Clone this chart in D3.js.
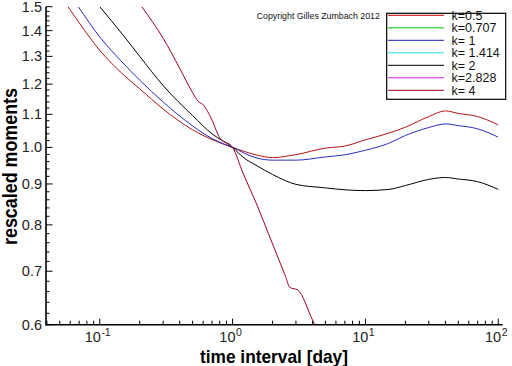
<!DOCTYPE html>
<html><head><meta charset="utf-8">
<script src="https://cdn.jsdelivr.net/npm/d3@7/dist/d3.min.js"></script>
<style>
html,body{margin:0;padding:0;background:#fff;}
svg{display:block;font-family:"Liberation Sans",Arial,sans-serif;}
</style></head>
<body><svg id="c" width="512" height="366"></svg>
<script>
// ---- data ----
const legendLabels = ["k=0.5","k=0.707","k= 1","k= 1.414","k= 2","k=2.828","k= 4"];
const legendColors = ["#c00000","#00c000","#1c1cb4","#30e0e0","#000000","#d020d0","#a00018"];
const yTicks = [0.6,0.7,0.8,0.9,1.0,1.1,1.2,1.3,1.4,1.5];
const xTicks = [0.1,1,10,100];
const xExp = ["-1","0","1","2"];

const tK05 = [0.0577,0.07,0.1,0.15,0.2,0.3,0.5,0.7,1,1.5,2,3,5,7,10,15,20,30,40,50,70,100];
const vK05 = [1.5,1.432,1.323,1.234,1.184,1.117,1.052,1.023,1.0,0.979,0.971,0.9795,0.998,1.004,1.022,1.042,1.060,1.093,1.111,1.103,1.093,1.067];

const tK1 = [0.069,0.1,0.15,0.2,0.3,0.5,0.7,1,1.5,2,3,5,7,10,15,20,30,40,50,70,100];
const vK1 = [1.5,1.375,1.275,1.214,1.140,1.064,1.026,1.0,0.9705,0.964,0.964,0.973,0.979,0.992,1.012,1.035,1.059,1.070,1.065,1.055,1.030];

const tK2 = [0.1,0.15,0.2,0.3,0.5,0.7,1,1.2,1.5,2,3,5,7,10,15,20,30,40,50,70,100];
const vK2 = [1.5,1.382,1.300,1.195,1.096,1.040,1.0,0.972,0.950,0.925,0.899,0.890,0.885,0.883,0.886,0.896,0.912,0.917,0.913,0.906,0.886];

const tK4 = [0.207,0.3,0.4,0.5,0.55,0.6,0.7,0.8,1,1.2,1.5,2,2.5,2.7,3.1,4,4.5];
const vK4 = [1.5,1.370,1.256,1.171,1.142,1.131,1.082,1.028,1.0,0.928,0.853,0.757,0.690,0.668,0.663,0.608,0.584];

const series = [
  {t:tK05, v:vK05, color:"#b41414"},
  {t:tK1,  v:vK1,  color:"#2a2ac0"},
  {t:tK2,  v:vK2,  color:"#000000"},
  {t:tK4,  v:vK4,  color:"#a00020"}
];

// ---- layout ----
const L=46, R=502.7, T=6.7, B=324.7;
const svg = d3.select("#c");
const x = d3.scaleLog().domain([0.0394,108]).range([L,R]);
const y = d3.scaleLog().domain([0.6,1.5]).range([B,T]);

svg.append("defs").append("clipPath").attr("id","clip")
  .append("rect").attr("x",L).attr("y",T).attr("width",R-L).attr("height",B-T);

// curves
const line = d3.line().x((d)=>x(d[0])).y((d)=>y(d[1])).curve(d3.curveMonotoneX);
const g = svg.append("g").attr("clip-path","url(#clip)");
series.forEach(s=>{
  const pts = s.t.map((t,i)=>[t,s.v[i]]);
  g.append("path").attr("d",line(pts)).attr("fill","none")
    .attr("stroke",s.color).attr("stroke-width",1);
});

// y axis
const yMinor = d3.range(60,151,2).map(d=>d/100).filter(d=>Math.round(d*100)%10!==0);
svg.append("g").selectAll("line").data(yMinor).join("line")
  .attr("x1",L).attr("x2",L+3.5).attr("y1",d=>y(d)).attr("y2",d=>y(d))
  .attr("stroke","#000").attr("stroke-width",1);
svg.append("g").selectAll("line").data(yTicks).join("line")
  .attr("x1",L).attr("x2",L+6.5).attr("y1",d=>y(d)).attr("y2",d=>y(d))
  .attr("stroke","#000").attr("stroke-width",1);
svg.append("g").selectAll("text").data(yTicks).join("text")
  .attr("x",L-4).attr("y",d=>y(d)+5).attr("text-anchor","end")
  .attr("font-size",14.5).attr("fill","#222").text(d=>d.toFixed(1));

// x axis
const xMinor = [];
[0.01,0.1,1,10].forEach(dec=>{for(let m=2;m<=9;m++){const v=dec*m; if(v>=0.0394&&v<=108) xMinor.push(v);}});
svg.append("g").selectAll("line").data(xMinor).join("line")
  .attr("x1",d=>x(d)).attr("x2",d=>x(d)).attr("y1",B).attr("y2",B-4)
  .attr("stroke","#000").attr("stroke-width",1);
svg.append("g").selectAll("line").data(xTicks).join("line")
  .attr("x1",d=>x(d)).attr("x2",d=>x(d)).attr("y1",B).attr("y2",B-6)
  .attr("stroke","#000").attr("stroke-width",1);
const xl = svg.append("g").selectAll("text").data(xTicks).join("text")
  .attr("x",(d)=>x(d)-2).attr("y",B+17).attr("text-anchor","middle")
  .attr("font-size",14.5).attr("fill","#222");
xl.append("tspan").text("10");
xl.append("tspan").attr("dy",-6).attr("dx",0.5).attr("font-size",10.5).text((d,i)=>xExp[i]);

// axis lines
svg.append("line").attr("x1",L).attr("x2",L).attr("y1",T).attr("y2",B+0.5)
  .attr("stroke","#000").attr("stroke-width",1.6);
svg.append("line").attr("x1",L-0.5).attr("x2",R).attr("y1",B).attr("y2",B)
  .attr("stroke","#000").attr("stroke-width",1.6);

// axis titles
svg.append("text").attr("x",200).attr("y",362.5).attr("font-size",19).attr("font-weight","bold")
  .attr("textLength",148).attr("lengthAdjust","spacingAndGlyphs").text("time interval [day]");
svg.append("text").attr("transform","translate(17,245) rotate(-90)")
  .attr("font-size",20).attr("font-weight","bold")
  .attr("textLength",157).attr("lengthAdjust","spacingAndGlyphs").text("rescaled moments");

// copyright
svg.append("text").attr("x",256.7).attr("y",19).attr("font-size",8.8).attr("fill","#111")
  .text("Copyright Gilles Zumbach 2012");

// legend
svg.append("rect").attr("x",386.7).attr("y",13.3).attr("width",119).attr("height",86)
  .attr("fill","#fff").attr("stroke","#000").attr("stroke-width",1.2);
const lg = svg.append("g").selectAll("g").data(legendLabels).join("g")
  .attr("transform",(d,i)=>`translate(0,${15.3+i*12.5})`);
lg.append("line").attr("x1",388).attr("x2",444).attr("y1",0).attr("y2",0)
  .attr("stroke",(d,i)=>legendColors[i]).attr("stroke-width",1);
lg.append("text").attr("x",451.5).attr("y",4.6).attr("font-size",12.5).attr("fill","#111")
  .text(d=>d);
</script></body></html>
